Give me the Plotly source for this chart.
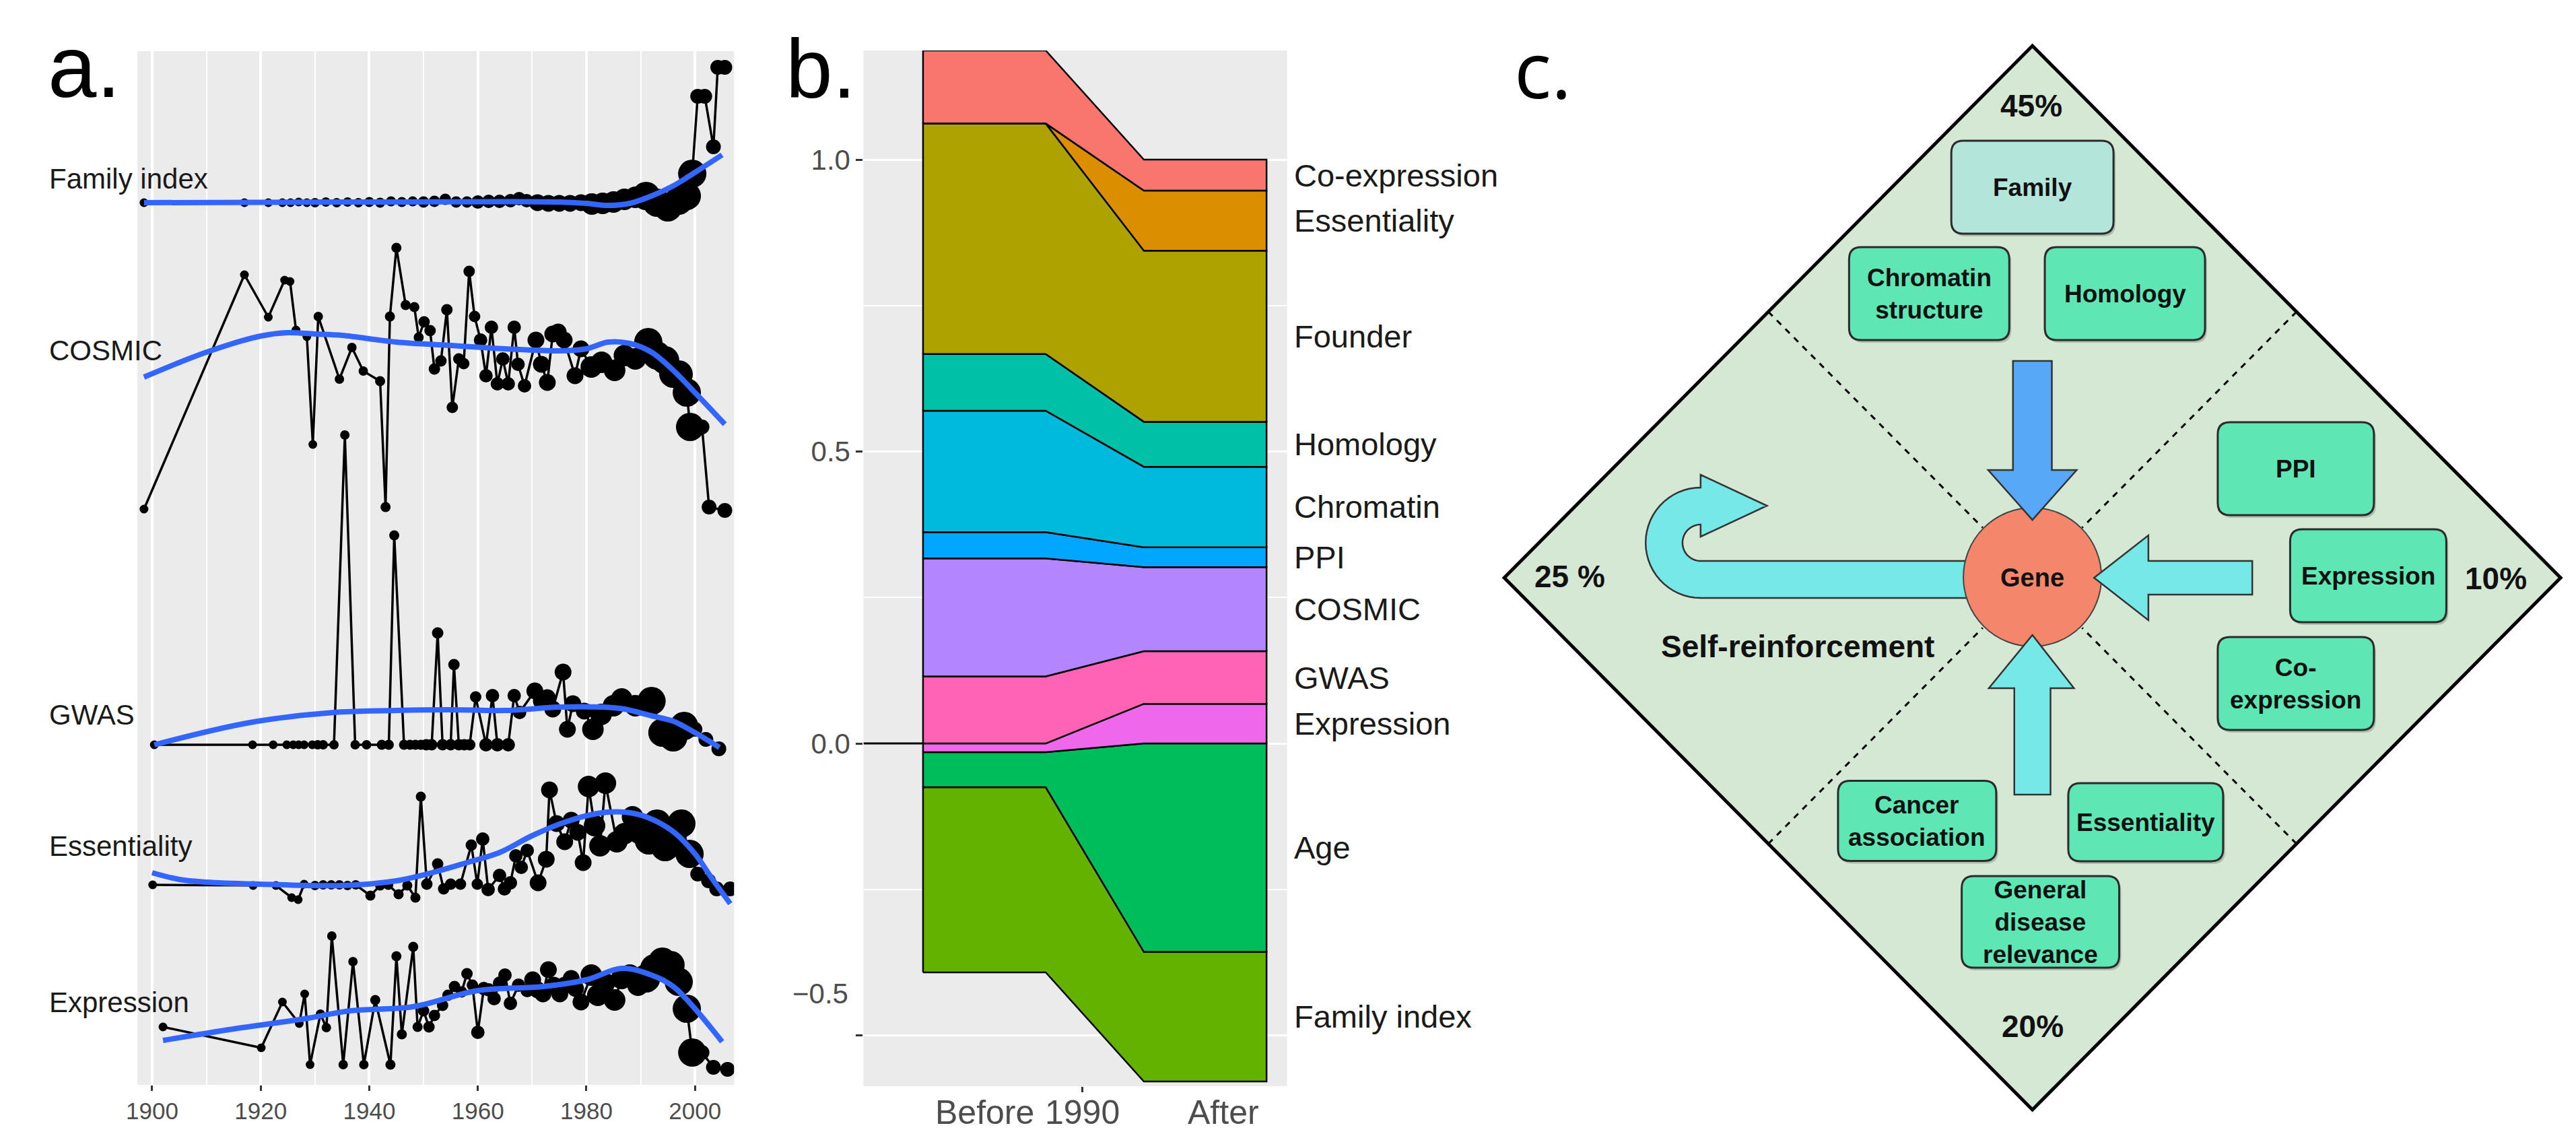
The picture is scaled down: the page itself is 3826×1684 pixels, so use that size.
import math
import plotly.graph_objects as go

W, H = 3826, 1684

# ---------------- Panel a: publication-year series (relative score units) ----------------
family_year = [1898.5, 1917, 1921.4, 1924, 1925.5, 1927, 1928.5, 1930, 1932, 1934, 1936, 1938, 1940, 1942,
               1944, 1946, 1948, 1950, 1952, 1954, 1956, 1958, 1960, 1962, 1964, 1966, 1967.6, 1969, 1971,
               1973, 1975, 1977, 1979, 1981, 1983, 1985, 1987, 1989, 1991, 1993, 1995, 1997, 1998.5, 1999.5,
               2000.5, 2001.8, 2003.4, 2004.2, 2005.5]
family_val = [131.0, 131.0, 131.0, 131.0, 131.0, 131.1, 131.0, 131.0, 131.1, 131.0, 131.1, 131.0, 131.1, 131.0,
              131.2, 131.1, 131.2, 131.1, 131.2, 131.5, 131.1, 131.1, 131.1, 131.2, 131.2, 131.3, 131.6, 131.3, 131.0,
              130.9, 130.9, 130.9, 131.0, 130.8, 130.9, 131.1, 131.5, 131.8, 132.0, 131.0, 130.3, 131.3, 132.0, 135.3,
              146.8, 146.8, 139.3, 151.1, 151.1]
family_smooth_year = [1898.5, 1940, 1975, 1980, 1984, 1988, 1992, 1996, 2000, 2005]
family_smooth_val = [131.0, 131.1, 131.1, 130.9, 130.6, 130.9, 132.0, 133.5, 135.5, 138.1]

cosmic_year = [1898.5, 1917, 1921.4, 1924.4, 1925.4, 1926.5, 1928.5, 1929.6, 1930.6, 1934.5, 1936.8, 1938.9,
               1942, 1943, 1943.8, 1945, 1946.7, 1948.3, 1949.1, 1950.1, 1951.2, 1952, 1953.2, 1954.3, 1955.3,
               1956.5, 1957.4, 1958.4, 1959.4, 1960.5, 1961.5, 1962.5, 1963.6, 1964.6, 1965.6, 1966.7, 1967.4,
               1968.6, 1970.7, 1971.7, 1972.8, 1973.8, 1974.8, 1975.9, 1977.9, 1979, 1980.9, 1982.8, 1985.2,
               1987, 1989, 1991.4, 1993, 1994.5, 1996, 1997, 1998.5, 1999.1, 2001.3, 2002.6, 2005.5]
cosmic_val = [85.5, 120.3, 114.0, 119.5, 119.3, 112.1, 111.1, 95.1, 114.1, 104.8, 109.5, 106.0,
              104.5, 85.8, 114.1, 124.3, 115.8, 115.5, 111.0, 113.3, 112.0, 106.3, 107.5, 115.1, 100.6,
              107.8, 107.1, 120.8, 114.1, 110.6, 105.3, 112.5, 104.1, 107.8, 104.1, 112.5, 107.0,
              103.8, 110.6, 107.0, 104.3, 111.5, 111.8, 110.6, 105.3, 109.3, 106.6, 107.3, 106.1,
              108.3, 107.8, 110.3, 108.3, 107.6, 105.6, 105.5, 102.8, 97.7, 97.7, 85.8, 85.3]
cosmic_smooth_year = [1898.5, 1910, 1920, 1925, 1930, 1935, 1945, 1955, 1965, 1975, 1980, 1984, 1988, 1992, 1996, 2000, 2005.5]
cosmic_smooth_val = [105.1, 108.8, 111.2, 111.7, 111.5, 111.3, 110.3, 109.8, 109.3, 109.0, 109.3, 110.3, 110.1, 108.8, 106.1, 102.8, 98.1]

gwas_year = [1900.4, 1918.5, 1922.3, 1924.8, 1926, 1927, 1928, 1929.5, 1930.5, 1931.5, 1933.5, 1935.5, 1937.4,
             1939.5, 1942.3, 1943.6, 1944.6, 1946.4, 1947.5, 1948.5, 1949.5, 1950.5, 1951.5, 1952.6, 1953.5,
             1955, 1955.6, 1956.5, 1957.5, 1958.5, 1959.6, 1961.5, 1962.7, 1963.6, 1965.6, 1966.7, 1967.7,
             1970.5, 1971.7, 1972.8, 1973.8, 1975.7, 1976.5, 1977.5, 1979.6, 1981.2, 1982.7, 1985, 1986.5,
             1989, 1992, 1994, 1996, 1998, 2000, 2002, 2004.4]
gwas_val = [50.5, 50.5, 50.5, 50.5, 50.5, 50.5, 50.5, 50.5, 50.5, 50.5, 50.5, 96.5, 50.5,
            50.5, 50.5, 50.5, 81.6, 50.5, 50.5, 50.5, 50.5, 50.5, 50.5, 67.1, 50.5,
            50.5, 62.4, 50.5, 50.5, 50.5, 57.6, 50.5, 57.8, 50.5, 50.5, 57.8, 55.3,
            58.5, 57.0, 57.5, 55.8, 61.3, 52.8, 56.6, 55.5, 52.8, 55.0, 56.3, 57.3,
            56.3, 57.0, 52.3, 51.6, 53.3, 52.8, 51.3, 49.9]
gwas_smooth_year = [1900.4, 1918, 1933.5, 1945, 1955, 1965, 1975, 1983, 1987, 1992, 1996, 2000, 2004.5]
gwas_smooth_val = [50.5, 53.8, 55.3, 55.6, 55.7, 55.6, 56.1, 56.1, 55.8, 54.8, 54.0, 52.3, 50.1]

ess_year = [1900.1, 1918.6, 1922.8, 1925.7, 1926.9, 1928, 1930, 1931.5, 1933, 1934.5, 1936, 1937.5, 1940.2,
            1942, 1943.5, 1945.4, 1947, 1948.5, 1949.5, 1950.6, 1952.6, 1953.7, 1955, 1956.8, 1958.8, 1959.9,
            1960.9, 1961.9, 1964, 1964.9, 1966, 1967, 1968, 1969.1, 1971.1, 1972.6, 1973.2, 1974.5, 1976,
            1977.2, 1978.4, 1979.4, 1980.4, 1981.5, 1982.5, 1983.5, 1985.6, 1987, 1988.5, 1990, 1991.5, 1993,
            1994.5, 1996, 1997.5, 1999, 2000.5, 2002.5, 2004, 2006.5]
ess_val = [29.7, 29.6, 29.6, 27.8, 27.5, 29.8, 29.6, 29.7, 29.7, 29.7, 29.6, 29.7, 28.1,
           29.6, 29.7, 28.3, 29.6, 27.8, 42.8, 29.8, 32.8, 29.1, 29.8, 29.8, 35.6, 29.8,
           36.5, 29.0, 31.1, 29.1, 30.0, 34.0, 32.3, 34.8, 30.0, 33.5, 43.8, 38.8, 36.1,
           39.3, 37.5, 33.0, 44.3, 38.5, 35.5, 44.8, 36.1, 37.3, 39.8, 37.8, 36.3, 38.8,
           35.3, 37.5, 38.8, 34.3, 31.3, 30.3, 29.1, 29.1]
ess_smooth_year = [1900, 1905, 1910, 1920, 1935, 1945, 1952, 1958, 1964, 1970, 1976, 1982, 1987, 1991, 1996, 2000, 2003, 2006.5]
ess_smooth_val = [31.5, 30.5, 30.1, 29.8, 29.6, 30.3, 31.6, 33.0, 34.5, 37.0, 39.0, 40.3, 40.5, 39.8, 37.6, 34.3, 30.8, 26.9]

expr_year = [1902, 1920.1, 1924, 1927.1, 1928.1, 1929.1, 1931, 1932.1, 1933.1, 1935.2, 1937, 1939, 1941.1,
             1943.9, 1945, 1946, 1948.1, 1948.9, 1950, 1951, 1952, 1953.5, 1954.5, 1955.7, 1957, 1958, 1959,
             1960, 1961.1, 1962, 1963, 1964, 1965, 1966, 1967.5, 1969.1, 1970.1, 1971, 1972, 1973, 1974,
             1975.1, 1976, 1977.2, 1978, 1979, 1980.9, 1982.1, 1983.3, 1985.2, 1986.5, 1988, 1989.5, 1991,
             1992.5, 1994, 1995.5, 1997, 1998.5, 1999.5, 2001.3, 2003.4, 2006]
expr_val = [8.6, 5.5, 12.3, 9.1, 13.5, 3.0, 10.5, 8.5, 22.1, 3.0, 18.3, 3.0, 12.6,
            3.0, 19.1, 7.5, 20.5, 8.6, 11.0, 8.6, 10.3, 11.8, 13.3, 14.6, 13.8, 16.5, 14.8,
            7.8, 14.3, 14.1, 12.8, 15.1, 16.3, 12.1, 14.8, 14.0, 15.6, 14.1, 13.5, 17.1, 14.8,
            13.5, 14.8, 15.8, 14.3, 12.3, 16.3, 13.3, 15.1, 12.6, 15.8, 16.3, 14.8, 15.8,
            17.3, 18.3, 17.8, 15.3, 11.3, 4.8, 4.8, 2.6, 2.3]
expr_smooth_year = [1902, 1915, 1928, 1936.5, 1948, 1960, 1972, 1980, 1986.5, 1992, 1996, 2000, 2005]
expr_smooth_val = [6.6, 8.3, 9.8, 11.0, 11.6, 14.0, 14.6, 15.6, 17.3, 16.3, 14.6, 11.3, 6.4]

series_names = ["Family index", "COSMIC", "GWAS", "Essentiality", "Expression"]
series_label_val = [134.6, 109.1, 55.0, 35.5, 12.3]
decade_dot_size = {1890: 13, 1900: 13, 1910: 13, 1920: 13, 1930: 14, 1940: 15, 1950: 17,
                   1960: 20, 1970: 25, 1980: 32, 1990: 42, 2000: 22}
year_ticks = [1900, 1920, 1940, 1960, 1980, 2000]

# ---------------- Panel b: stacked shares ----------------
categories = ["Family index", "Age", "Expression", "GWAS", "COSMIC", "PPI", "Chromatin",
              "Homology", "Founder", "Essentiality", "Co-expression"]
share_before = [-0.317, -0.060, -0.015, 0.115, 0.202, 0.045, 0.208, 0.097, 0.395, 0.0, 0.125]
share_after = [-0.222, -0.357, 0.068, 0.090, 0.144, 0.034, 0.138, 0.077, 0.293, 0.103, 0.053]
cat_colors = ["#64B200", "#00BD5C", "#EF67EB", "#FF63B6", "#B385FF", "#00A6FF", "#00BADE",
              "#00C1A7", "#AEA200", "#DB8E00", "#F8766D"]
period_x = [0.0, 1.0, 1.8, 2.8]   # before start/end, after start/end
period_labels = ["Before", "1990", "After"]
period_label_x = [0.5, 1.3, 2.45]

# ---------------- Panel c: diagram content ----------------
boxes = [  # text, cx, cy, w, h, fill
    ("Family", 3007, 270, 242, 138, "#B3E5DB"),
    ("Chromatin<br>structure", 2853, 428, 239, 138, "#5EE6B5"),
    ("Homology", 3145, 428, 239, 138, "#5EE6B5"),
    ("PPI", 3400, 688, 233, 138, "#5EE6B5"),
    ("Expression", 3508, 847, 233, 138, "#5EE6B5"),
    ("Co-<br>expression", 3400, 1007, 233, 138, "#5EE6B5"),
    ("Cancer<br>association", 2835, 1211, 236, 119, "#5EE6B5"),
    ("Essentiality", 3176, 1213, 231, 116, "#5EE6B5"),
    ("General<br>disease<br>relevance", 3019, 1361, 235, 136, "#5EE6B5"),
]
percent_labels = [("45%", 3005, 149), ("25 %", 2317, 848), ("10%", 3698, 851), ("20%", 3007, 1516)]

FONT = "Liberation Sans, Arial, sans-serif"
fig = go.Figure()


def dot_sizes(years):
    return [decade_dot_size[int(y // 10 * 10)] for y in years]


raw = [(family_year, family_val), (cosmic_year, cosmic_val), (gwas_year, gwas_val),
       (ess_year, ess_val), (expr_year, expr_val)]
smooth = [(family_smooth_year, family_smooth_val), (cosmic_smooth_year, cosmic_smooth_val),
          (gwas_smooth_year, gwas_smooth_val), (ess_smooth_year, ess_smooth_val),
          (expr_smooth_year, expr_smooth_val)]
for (yr, vv) in raw:
    fig.add_trace(go.Scatter(x=yr, y=vv, mode="lines+markers", xaxis="x", yaxis="y",
                             line=dict(color="black", width=3.5),
                             marker=dict(color="black", size=dot_sizes(yr), opacity=1, line=dict(width=0)),
                             hoverinfo="skip"))
for (yr, vv) in smooth:
    fig.add_trace(go.Scatter(x=yr, y=vv, mode="lines", xaxis="x", yaxis="y",
                             line=dict(color="#3366FF", width=8, shape="spline", smoothing=1.0),
                             hoverinfo="skip"))

# stacked polygons for panel b
def stack(vals):
    n = len(vals)
    lo, hi = [0.0] * n, [0.0] * n
    pos = 0.0
    for i in range(n):
        if vals[i] >= 0:
            lo[i], hi[i] = pos, pos + vals[i]
            pos += vals[i]
    neg = 0.0
    for i in reversed(range(n)):
        if vals[i] < 0:
            hi[i], lo[i] = neg, neg + vals[i]
            neg += vals[i]
    return lo, hi

lo_b, hi_b = stack(share_before)
lo_a, hi_a = stack(share_after)
xb0, xb1, xa0, xa1 = period_x
for i, c in enumerate(categories):
    xs = [xb0, xb1, xa0, xa1, xa1, xa0, xb1, xb0, xb0]
    ys = [lo_b[i], lo_b[i], lo_a[i], lo_a[i], hi_a[i], hi_a[i], hi_b[i], hi_b[i], lo_b[i]]
    fig.add_trace(go.Scatter(x=xs, y=ys, mode="lines", fill="toself", fillcolor=cat_colors[i],
                             line=dict(color="black", width=2.5), xaxis="x2", yaxis="y2",
                             hoverinfo="skip"))

# invisible anchor trace for panel c axes
fig.add_trace(go.Scatter(x=[2100], y=[0], mode="markers", marker=dict(opacity=0),
                         xaxis="x3", yaxis="y3", hoverinfo="skip"))

shapes = []
annotations = []
# gray panel backgrounds
shapes.append(dict(type="rect", xref="x domain", yref="y domain", x0=0, x1=1, y0=0, y1=1,
                   fillcolor="#EBEBEB", line=dict(width=0), layer="below"))
shapes.append(dict(type="rect", xref="x2 domain", yref="y2 domain", x0=0, x1=1, y0=0, y1=1,
                   fillcolor="#EBEBEB", line=dict(width=0), layer="below"))
# zero line in panel b (left of the bars)
shapes.append(dict(type="line", xref="x2", yref="y2", x0=-0.486, x1=xb0, y0=0, y1=0,
                   line=dict(color="black", width=3), layer="above"))

# panel labels
annotations.append(dict(text="a.", xref="paper", yref="paper", x=44 / W, y=1 - 91 / H,
                        xanchor="left", yanchor="middle", showarrow=False,
                        font=dict(family=FONT, size=130, color="black")))
annotations.append(dict(text="b.", xref="paper", yref="paper", x=1145 / W, y=1 - 94 / H,
                        xanchor="left", yanchor="middle", showarrow=False,
                        font=dict(family=FONT, size=125, color="black")))
annotations.append(dict(text="c.", xref="paper", yref="paper", x=2232 / W, y=1 - 93 / H,
                        xanchor="left", yanchor="middle", showarrow=False,
                        font=dict(family="Open Sans, Liberation Sans, sans-serif", size=115, color="black")))

# panel a series labels
for name, v in zip(series_names, series_label_val):
    annotations.append(dict(text=name, xref="paper", yref="y", x=46 / W, y=v,
                            xanchor="left", yanchor="middle", showarrow=False,
                            font=dict(family=FONT, size=42, color="#1A1A1A")))

# panel b right labels at after-segment midpoints
for i, c in enumerate(categories):
    annotations.append(dict(text=c, xref="paper", yref="y2", x=1903 / W, y=(lo_a[i] + hi_a[i]) / 2,
                            xanchor="left", yanchor="middle", showarrow=False,
                            font=dict(family=FONT, size=47, color="#1A1A1A")))
# panel b x labels
for t, xv in zip(period_labels, period_label_x):
    annotations.append(dict(text=t, xref="x2", yref="paper", x=xv, y=1 - 1644 / H,
                            xanchor="center", yanchor="middle", showarrow=False,
                            font=dict(family=FONT, size=50, color="#4D4D4D")))
annotations.append(dict(text="\u22120.5", xref="paper", yref="y2", x=1243 / W, y=-0.428,
                        xanchor="right", yanchor="middle", showarrow=False,
                        font=dict(family=FONT, size=42, color="#4D4D4D")))

# ---------------- panel c drawing ----------------
def poly(pts):
    return "M " + " L ".join(f"{x:.1f},{y:.1f}" for x, y in pts) + " Z"

def rrect(cx, cy, w, h, r=18):
    x0, x1, y0, y1 = cx - w / 2, cx + w / 2, cy - h / 2, cy + h / 2
    return (f"M {x0 + r},{y0} L {x1 - r},{y0} Q {x1},{y0} {x1},{y0 + r} L {x1},{y1 - r} "
            f"Q {x1},{y1} {x1 - r},{y1} L {x0 + r},{y1} Q {x0},{y1} {x0},{y1 - r} "
            f"L {x0},{y0 + r} Q {x0},{y0} {x0 + r},{y0} Z")

C3 = dict(xref="x3", yref="y3")
cx0, cy0 = 3007, 850
top, right, bottom, left = (3007, 60), (3795, 850), (3007, 1640), (2219, 850)
shapes.append(dict(type="path", path=poly([top, right, bottom, left]), fillcolor="#D5E8D4",
                   line=dict(color="black", width=5), **C3))
# dashed separators
for (ax, ay), (bx, by) in [(top, left), (top, right), (bottom, left), (bottom, right)]:
    mx, my = (ax + bx) / 2, (ay + by) / 2
    dx, dy = cx0 - mx, cy0 - my
    d = math.hypot(dx, dy)
    ex, ey = cx0 - dx / d * 105, cy0 - dy / d * 105
    shapes.append(dict(type="line", x0=mx, y0=my, x1=ex, y1=ey,
                       line=dict(color="black", width=3, dash="dash"), **C3))

# self-reinforcement U-turn arrow
ucx, ucy, R, r = 2512, 798, 82, 27
pts = [(2935, ucy + r), (ucx, ucy + r)]
for k in range(1, 31):
    th = math.radians(90 + 180 * k / 30)
    pts.append((ucx + r * math.cos(th), ucy + r * math.sin(th)))
pts += [(ucx, 789), (2611, 743), (ucx, 697), (ucx, ucy - R)]
for k in range(1, 31):
    th = math.radians(270 - 180 * k / 30)
    pts.append((ucx + R * math.cos(th), ucy + R * math.sin(th)))
pts.append((2935, ucy + R))
shapes.append(dict(type="path", path=poly(pts), fillcolor="#76E8E8",
                   line=dict(color="#333333", width=2.5), **C3))

# gene circle
shapes.append(dict(type="circle", x0=2904, x1=3110, y0=746, y1=952, fillcolor="#F4876B",
                   line=dict(color="#444444", width=2), **C3))

# inward arrows
shapes.append(dict(type="path", path=poly([(2978, 528), (3036, 528), (3036, 690), (3073, 690),
                                           (3007, 764), (2941, 690), (2978, 690)]),
                   fillcolor="#58A8F8", line=dict(color="#333333", width=2.5), **C3))
shapes.append(dict(type="path", path=poly([(3335, 825), (3335, 875), (3180, 875), (3180, 913),
                                           (3099, 850), (3180, 787), (3180, 825)]),
                   fillcolor="#76E8E8", line=dict(color="#333333", width=2.5), **C3))
shapes.append(dict(type="path", path=poly([(2980, 1172), (3034, 1172), (3034, 1014), (3069, 1014),
                                           (3007, 935), (2942, 1014), (2980, 1014)]),
                   fillcolor="#76E8E8", line=dict(color="#333333", width=2.5), **C3))

for text, bx, by, bw, bh, fill in boxes:
    shapes.append(dict(type="path", path=rrect(bx + 3, by + 4, bw, bh), fillcolor="rgba(0,0,0,0.18)",
                       line=dict(width=0), **C3))
    shapes.append(dict(type="path", path=rrect(bx, by, bw, bh), fillcolor=fill,
                       line=dict(color="#2B2B2B", width=3), **C3))
    annotations.append(dict(text=f"<b>{text}</b>", x=bx, y=by, xanchor="center", yanchor="middle",
                            showarrow=False, align="center",
                            font=dict(family=FONT, size=37, color="#111111"), **C3))

annotations.append(dict(text="<b>Gene</b>", x=cx0, y=cy0, xanchor="center", yanchor="middle",
                        showarrow=False, font=dict(family=FONT, size=38, color="#111111"), **C3))
annotations.append(dict(text="<b>Self-reinforcement</b>", x=2657, y=952, xanchor="center",
                        yanchor="middle", showarrow=False,
                        font=dict(family=FONT, size=46, color="#111111"), **C3))
for t, x, y in percent_labels:
    annotations.append(dict(text=f"<b>{t}</b>", x=x, y=y, xanchor="center", yanchor="middle",
                            showarrow=False, font=dict(family=FONT, size=46, color="#111111"), **C3))

fig.update_layout(
    width=W, height=H, margin=dict(l=0, r=0, t=0, b=0),
    paper_bgcolor="white", plot_bgcolor="white", showlegend=False,
    font=dict(family=FONT),
    xaxis=dict(domain=[180 / W, 1070 / W], range=[1897.3, 2007.2], anchor="y",
               tickmode="array", tickvals=year_ticks, ticks="outside", ticklen=8, tickwidth=3,
               tickcolor="#333333", tickfont=dict(family=FONT, size=35, color="#4D4D4D"),
               showgrid=True, gridcolor="white", gridwidth=4,
               minor=dict(tickmode="array", tickvals=[1910, 1930, 1950, 1970, 1990],
                          showgrid=True, gridcolor="white", gridwidth=2, ticks=""),
               zeroline=False, showline=False, fixedrange=True),
    yaxis=dict(domain=[1 - 1603 / H, 1 - 68 / H], range=[0, 153.5], anchor="x",
               showticklabels=False, showgrid=False, zeroline=False, ticks="", fixedrange=True),
    xaxis2=dict(domain=[1263 / W, 1895 / W], range=[-0.486, 2.967], anchor="y2",
                tickmode="array", tickvals=[1.3], ticktext=[""], ticks="outside", ticklen=8,
                tickwidth=3, tickcolor="#333333",
                showgrid=False, zeroline=False, showline=False, fixedrange=True),
    yaxis2=dict(domain=[1 - 1605 / H, 1 - 67 / H], range=[-0.587, 1.187], anchor="x2",
                tickmode="array", tickvals=[-0.5, 0, 0.5, 1.0], ticktext=["", "0.0", "0.5", "1.0"],
                ticks="outside", ticklen=10, tickwidth=3, tickcolor="#333333",
                tickfont=dict(family=FONT, size=42, color="#4D4D4D"),
                showgrid=True, gridcolor="white", gridwidth=3,
                minor=dict(tickmode="array", tickvals=[-0.25, 0.25, 0.75], showgrid=True,
                           gridcolor="white", gridwidth=1.5, ticks=""),
                zeroline=False, showline=False, fixedrange=True),
    xaxis3=dict(domain=[2100 / W, 1], range=[2100, 3826], visible=False, anchor="y3", fixedrange=True),
    yaxis3=dict(domain=[0, 1], range=[1684, 0], visible=False, anchor="x3", fixedrange=True),
    shapes=shapes, annotations=annotations,
)

fig.write_html("out.html")
